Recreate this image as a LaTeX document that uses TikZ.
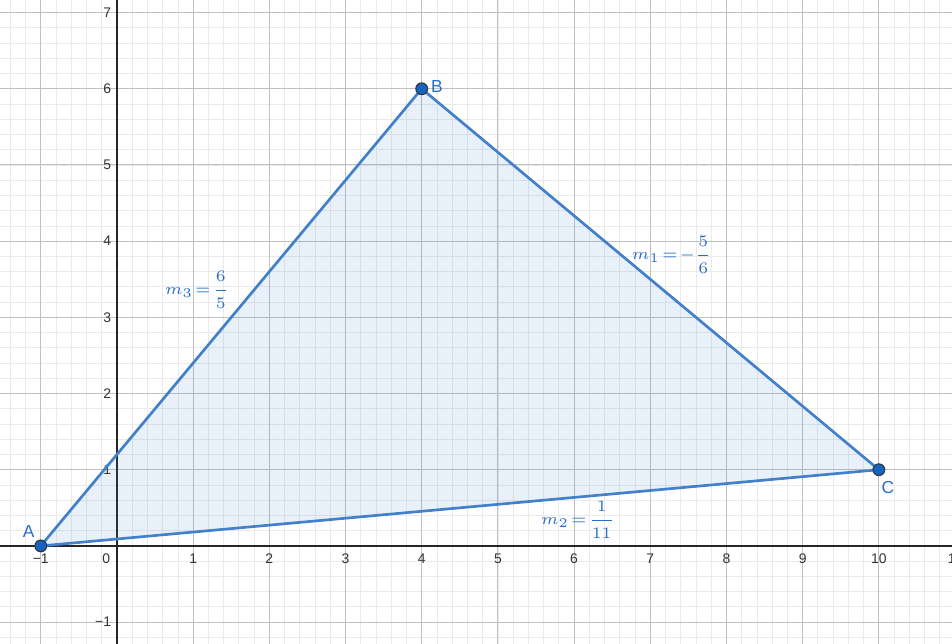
\documentclass[tikz,border=0pt]{standalone}
\usepackage{amsmath}
\usepackage{fontspec}
\newfontfamily\ggbfont{Liberation Sans}
\usetikzlibrary{positioning}
\definecolor{SegBlue}{RGB}{66,128,204}
\definecolor{PtBlue}{RGB}{21,101,192}
\definecolor{LabBlue}{RGB}{40,110,200}
\definecolor{MajorGrid}{RGB}{192,192,192}
\definecolor{MinorGrid}{RGB}{234,234,234}

\begin{document}
\begin{tikzpicture}[
    pt/.style={circle, draw=black!80, fill=PtBlue, inner sep=0pt, minimum size=4.4pt, line width=0.4pt},
    ticklab/.style={font=\fontsize{5.2}{6}\selectfont\ggbfont, text=black!80, inner sep=0pt},
    ptlab/.style={font=\fontsize{6.5}{7}\selectfont\ggbfont, text=LabBlue, inner sep=0pt},
    slope/.style={font=\fontsize{6.5}{7.5}\selectfont, text=LabBlue, inner sep=0pt}]
    \useasboundingbox (-1.535,-1.286) rectangle (10.96,7.165);
    \clip (-1.535,-1.286) rectangle (10.96,7.165);

    % Grid
    \draw[MinorGrid, line width=0.3pt, step=0.2] (-1.6,-1.4) grid (11.2,7.4);
    \draw[MajorGrid, line width=0.4pt, step=1] (-1.6,-1.4) grid (11.2,7.4);

    % Axes
    \draw[black!85, line width=0.5pt] (-1.6,0) -- (11.2,0);
    \draw[black!85, line width=0.5pt] (0,-1.4) -- (0,7.4);

    % Tick labels
    \foreach \x in {1,...,11}
        \node[ticklab] at (\x,-0.17) {\x};
    \node[ticklab] at (-1,-0.17) {−1};
    \node[ticklab] at (-0.14,-0.17) {0};
    \foreach \y in {1,...,7}
        \node[ticklab, anchor=east] at (-0.07,\y) {\y};
    \node[ticklab, anchor=east] at (-0.07,-1) {−1};

    % Triangle
    \coordinate (A) at (-1,0);
    \coordinate (B) at (4,6);
    \coordinate (C) at (10,1);
    \fill[SegBlue, fill opacity=0.12] (A) -- (B) -- (C) -- cycle;
    \draw[SegBlue, line width=1pt] (A) -- (B) -- (C) -- cycle;

    % Slopes
    \node[slope] (slopeAB) at (1.05,3.36) {$m_3\!=\!\dfrac{6}{5}$};
    \node[slope] (slopeBC) at (7.28,3.82) {$m_1\!=\!-\dfrac{5}{6}$};
    \node[slope] (slopeAC) at (6.05,0.34) {$m_2\!=\!\dfrac{1}{11}$};

    % Points
    \node[pt] (ptA) at (A) {};
    \node[pt] (ptB) at (B) {};
    \node[pt] (ptC) at (C) {};
    \node[ptlab] (lblA) at (-1.16,0.19) {A};
    \node[ptlab] (lblB) at (4.2,6.03) {B};
    \node[ptlab] (lblC) at (10.12,0.77) {C};
\end{tikzpicture}
\end{document}
